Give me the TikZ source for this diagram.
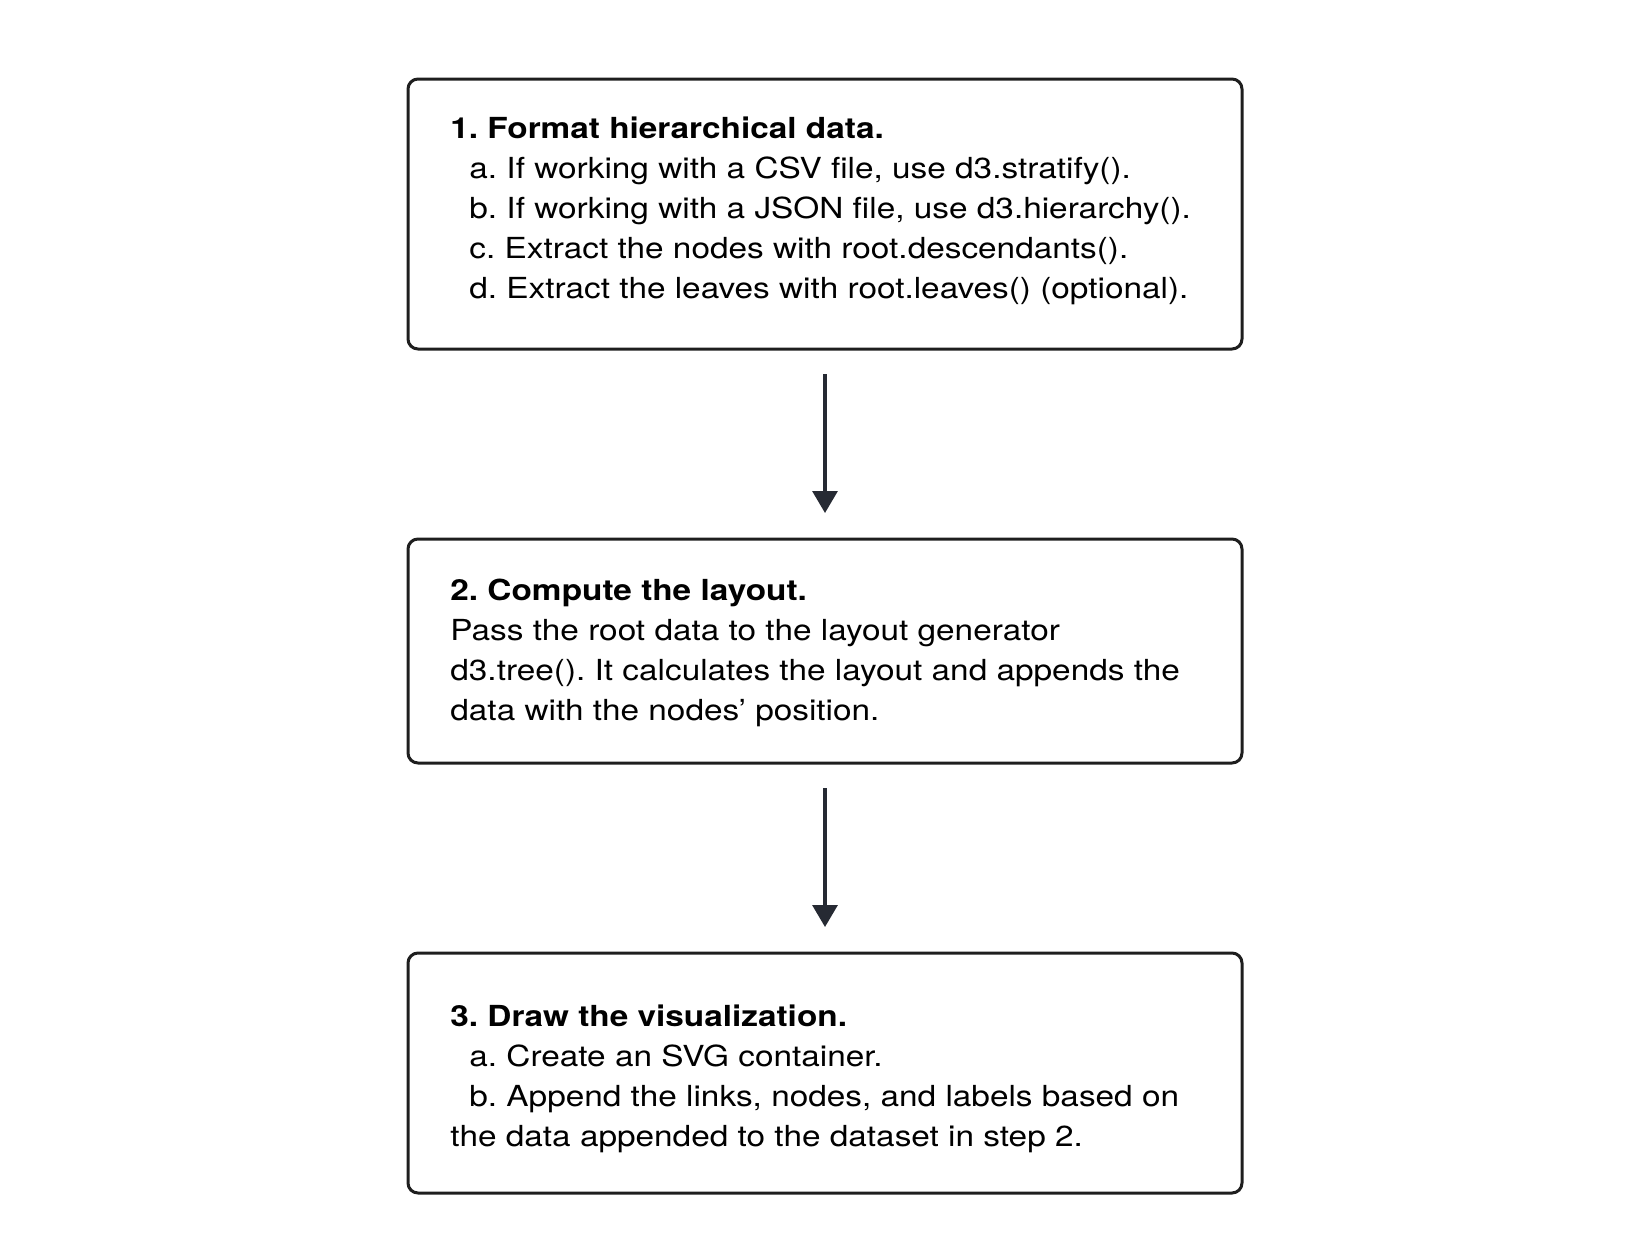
\documentclass[tikz,border=0pt]{standalone}
\usepackage{fontspec}
\setmainfont[FakeStretch=1.15]{TeX Gyre Heros}
\usetikzlibrary{arrows.meta}
\definecolor{boxline}{HTML}{1E1E1E}
\definecolor{arrowcol}{HTML}{262A33}
\tikzset{
  stepbox/.style={draw=boxline, line width=1.5pt, rounded corners=5pt, outer sep=0pt, inner sep=0pt, minimum width=417pt},
  txt/.style={anchor=base west, inner sep=0pt, font=\fontsize{14.5pt}{20pt}\selectfont, text=black},
  head/.style={txt, font=\fontsize{14.5pt}{20pt}\selectfont\bfseries},
  arr/.style={draw=arrowcol, line width=1.6pt, -{Triangle[width=12.5pt,length=11pt]}, shorten <=12.5pt, shorten >=13pt}
}
\frenchspacing
\begin{document}
\begin{tikzpicture}[x=0.5pt,y=-0.5pt]
\useasboundingbox (0,0) rectangle (1650,1249);
% boxes
\node[stepbox, minimum height=135pt] (b1) at (825,214) {};
\node[stepbox, minimum height=112pt] (b2) at (825,651) {};
\node[stepbox, minimum height=120pt] (b3) at (825,1073) {};
% box 1 text
\node[head] (t1h) at (450,138) {1. Format hierarchical data.};
\node[txt] (t1a) at (469,178) {a. If working with a CSV file, use d3.stratify().};
\node[txt] (t1b) at (469,218) {b. If working with a JSON file, use d3.hierarchy().};
\node[txt] (t1c) at (469,258) {c. Extract the nodes with root.descendants().};
\node[txt] (t1d) at (469,298) {d. Extract the leaves with root.leaves() (optional).};
% box 2 text
\node[head] (t2h) at (450,600) {2. Compute the layout.};
\node[txt] (t2a) at (450,640) {Pass the root data to the layout generator};
\node[txt] (t2b) at (450,680) {d3.tree(). It calculates the layout and appends the};
\node[txt] (t2c) at (450,720) {data with the nodes’ position.};
% box 3 text
\node[head] (t3h) at (450,1026) {3. Draw the visualization.};
\node[txt] (t3a) at (469,1066) {a. Create an SVG container.};
\node[txt] (t3b) at (469,1106) {b. Append the links, nodes, and labels based on};
\node[txt] (t3c) at (450,1146) {the data appended to the dataset in step 2.};
% arrows
\draw[arr] (b1.south) -- (b2.north);
\draw[arr] (b2.south) -- (b3.north);
\end{tikzpicture}
\end{document}
